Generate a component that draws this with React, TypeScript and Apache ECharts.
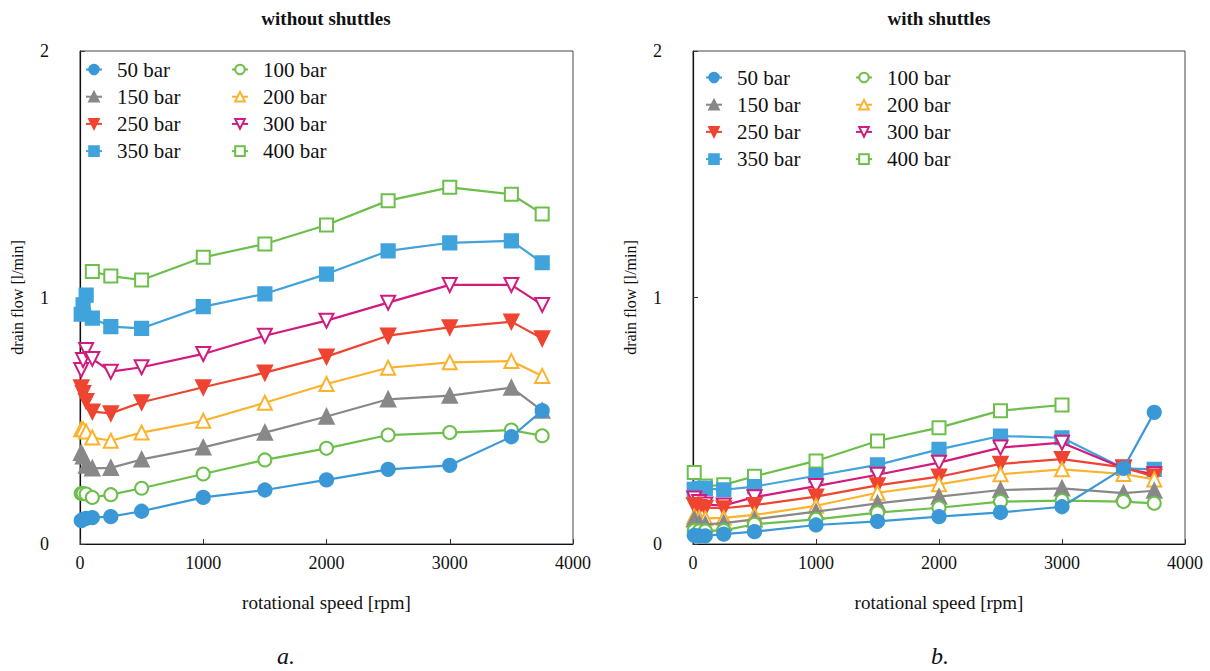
import React, { useEffect, useRef } from "react";
import * as echarts from "echarts";

// rotational speed sample points [rpm]
const RPM = [10, 25, 50, 100, 250, 500, 1000, 1500, 2000, 2500, 3000, 3500, 3750];

const NAMES = ["50 bar", "100 bar", "150 bar", "200 bar", "250 bar", "300 bar", "350 bar", "400 bar"];

// a. without shuttles — drain flow [l/min]
const A_50 = [0.095, 0.1, 0.104, 0.107, 0.111, 0.133, 0.189, 0.219, 0.26, 0.303, 0.319, 0.435, 0.541];
const A_100 = [0.205, 0.205, 0.203, 0.189, 0.2, 0.226, 0.284, 0.341, 0.388, 0.442, 0.452, 0.462, 0.439];
const A_150 = [0.37, 0.355, 0.318, 0.307, 0.309, 0.343, 0.392, 0.452, 0.517, 0.587, 0.602, 0.634, 0.541];
const A_200 = [0.466, 0.466, 0.456, 0.432, 0.419, 0.452, 0.5, 0.573, 0.649, 0.715, 0.737, 0.742, 0.682];
const A_250 = [0.635, 0.612, 0.58, 0.537, 0.53, 0.575, 0.636, 0.695, 0.76, 0.845, 0.879, 0.902, 0.834];
const A_300 = [0.706, 0.746, 0.787, 0.751, 0.699, 0.717, 0.771, 0.845, 0.906, 0.979, 1.051, 1.051, 0.97];
const A_350 = [0.932, 0.97, 1.01, 0.916, 0.882, 0.875, 0.963, 1.015, 1.095, 1.189, 1.222, 1.23, 1.141];
const A_400 = [null, null, null, 1.105, 1.087, 1.071, 1.163, 1.217, 1.294, 1.393, 1.447, 1.419, 1.339];

// b. with shuttles — drain flow [l/min]
const B_50 = [0.035, null, 0.033, 0.033, 0.04, 0.05, 0.077, 0.092, 0.111, 0.128, 0.151, 0.307, 0.534];
const B_100 = [0.055, null, 0.053, 0.053, 0.055, 0.08, 0.1, 0.127, 0.147, 0.172, 0.176, 0.172, 0.165];
const B_150 = [0.1, null, 0.085, 0.08, 0.085, 0.1, 0.131, 0.165, 0.192, 0.219, 0.226, 0.206, 0.216];
const B_200 = [0.111, null, 0.106, 0.104, 0.106, 0.118, 0.155, 0.208, 0.242, 0.283, 0.303, 0.284, 0.262];
const B_250 = [0.158, null, 0.15, 0.147, 0.145, 0.158, 0.192, 0.238, 0.273, 0.325, 0.344, 0.311, 0.273];
const B_300 = [0.185, null, 0.17, 0.16, 0.156, 0.19, 0.235, 0.281, 0.33, 0.391, 0.411, 0.307, 0.283];
const B_350 = [0.222, null, 0.226, 0.226, 0.22, 0.233, 0.277, 0.321, 0.384, 0.438, 0.431, 0.307, 0.303];
const B_400 = [0.29, null, null, 0.235, 0.24, 0.275, 0.337, 0.418, 0.472, 0.541, 0.564, null, null];

const A_SETS = [A_50, A_100, A_150, A_200, A_250, A_300, A_350, A_400];
const B_SETS = [B_50, B_100, B_150, B_200, B_250, B_300, B_350, B_400];

const COLORS = ["#3b98d6", "#6cbf4b", "#888888", "#fbb22c", "#ee4431", "#d31a7e", "#40a3dc", "#6cbf4b"];
const SYMBOLS = ["circle", "emptyCircle", "triangle", "emptyTriangle", "triangle", "emptyTriangle", "rect", "emptyRect"];
const ROTATE = [0, 0, 0, 0, 180, 180, 0, 0];
const SIZES = [13, 13, 14, 14, 14, 14, 13, 13];

const SERIF = "Liberation Serif, serif";

function pairs(vals: (number | null)[]) {
  const out: [number, number][] = [];
  vals.forEach((v, i) => {
    if (v !== null) out.push([RPM[i], v]);
  });
  return out;
}

export default function App() {
  const ref = useRef<HTMLDivElement>(null);
  useEffect(() => {
    if (!ref.current) return;
    const chart = echarts.init(ref.current, null, { renderer: "svg" });

    const grids = [
      { left: 80, top: 51, width: 493, height: 493, show: true, borderColor: "#444", borderWidth: 1, backgroundColor: "transparent" },
      { left: 693, top: 51, width: 492, height: 493, show: true, borderColor: "#444", borderWidth: 1, backgroundColor: "transparent" },
    ];

    const xAxis = [0, 1].map((g) => ({
      type: "value",
      gridIndex: g,
      min: 0,
      max: 4000,
      interval: 1000,
      name: "rotational speed [rpm]",
      nameLocation: "middle",
      nameGap: 49,
      nameTextStyle: { fontFamily: SERIF, fontSize: 19, color: "#111" },
      axisLine: { show: true, lineStyle: { color: "#111", width: 1.2 } },
      axisTick: { show: true, inside: true, length: 5, lineStyle: { color: "#333" } },
      axisLabel: { fontFamily: SERIF, fontSize: 18, color: "#111", margin: 10, formatter: (v: number) => String(v) },
      splitLine: { show: false },
    }));

    const yAxis = [0, 1].map((g) => ({
      type: "value",
      gridIndex: g,
      min: 0,
      max: 2,
      interval: 1,
      name: "drain flow [l/min]",
      nameLocation: "middle",
      nameGap: 55,
      nameTextStyle: { fontFamily: SERIF, fontSize: 16, color: "#111" },
      axisLine: { show: true, lineStyle: { color: "#111", width: 1.2 } },
      axisTick: { show: true, inside: true, length: 5, lineStyle: { color: "#333" } },
      axisLabel: { fontFamily: SERIF, fontSize: 18, color: "#111", margin: 31, formatter: (v: number) => String(v) },
      splitLine: { show: false },
    }));

    const series: any[] = [];
    [A_SETS, B_SETS].forEach((sets, g) => {
      sets.forEach((vals, i) => {
        series.push({
          type: "line",
          name: NAMES[i],
          xAxisIndex: g,
          yAxisIndex: g,
          data: pairs(vals),
          symbol: SYMBOLS[i],
          symbolRotate: ROTATE[i],
          symbolSize: SIZES[i],
          showAllSymbol: true,
          z: 10 - i,
          lineStyle: { color: COLORS[i], width: 2.2 },
          itemStyle: { color: COLORS[i], borderColor: COLORS[i], borderWidth: 2.2 },
          emphasis: { disabled: true },
        });
      });
    });

    const legendBase = {
      orient: "vertical",
      padding: 0,
      itemGap: 6.2,
      itemWidth: 16,
      itemHeight: 12,
      selectedMode: false,
      textStyle: { fontFamily: SERIF, fontSize: 21, color: "#111", padding: [0, 0, 0, 10] },
    };
    const col1 = ["50 bar", "150 bar", "250 bar", "350 bar"];
    const col2 = ["100 bar", "200 bar", "300 bar", "400 bar"];
    const legend = [
      { ...legendBase, data: col1, left: 85, top: 59 },
      { ...legendBase, data: col2, left: 231, top: 59 },
      { ...legendBase, data: col1, left: 705, top: 67 },
      { ...legendBase, data: col2, left: 855, top: 67 },
    ];

    const textEl = (text: string, x: number, y: number, font: string) => ({
      type: "text",
      x,
      y,
      style: { text, font, fill: "#111", textAlign: "center", textVerticalAlign: "middle" },
    });

    chart.setOption({
      animation: false,
      backgroundColor: "#fff",
      grid: grids,
      xAxis,
      yAxis,
      legend,
      series,
      graphic: [
        textEl("without shuttles", 326, 18, `bold 19px ${SERIF}`),
        textEl("with shuttles", 939, 18, `bold 19px ${SERIF}`),
        textEl("a.", 286, 656, `italic 24px ${SERIF}`),
        textEl("b.", 940, 656, `italic 24px ${SERIF}`),
      ],
    });

    return () => chart.dispose();
  }, []);

  return (
    <div
      ref={ref}
      style={{ position: "fixed", left: 0, top: 0, width: 1210, height: 671, background: "#fff" }}
    />
  );
}
